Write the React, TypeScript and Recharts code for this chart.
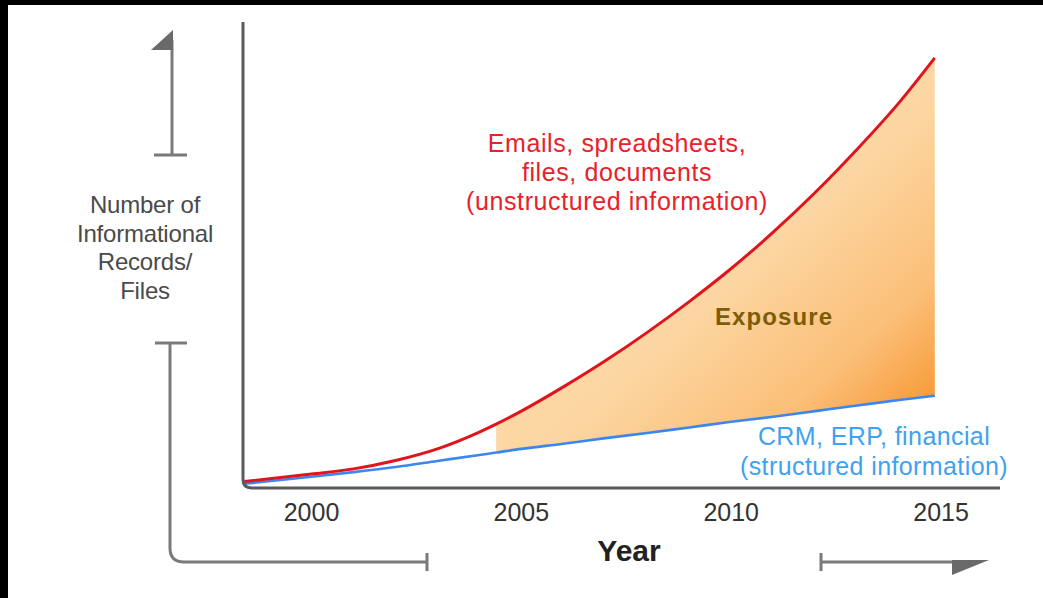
import React from 'react';
import { ComposedChart, Line, Area, XAxis, YAxis } from 'recharts';

const years = [1998.4, 2000, 2001, 2002, 2003, 2004, 2004.4, 2005, 2006, 2007, 2008, 2009, 2010, 2011, 2012, 2013, 2014, 2014.85];
const unstructured = [1.4, 3.0, 4.1, 5.9, 8.4, 12.0, 13.7, 16.5, 21.7, 27.3, 33.4, 40.0, 47.1, 54.9, 63.4, 72.7, 82.7, 92.3];
const structured = [0.9, 2.4, 3.4, 4.5, 5.8, 7.1, 7.6, 8.4, 9.5, 10.7, 11.8, 13.0, 14.2, 15.3, 16.5, 17.7, 18.9, 19.8];
const exposureStart = 2004.4;
const xTicks = [2000, 2005, 2010, 2015];

const redLines = ['Emails, spreadsheets,', 'files, documents', '(unstructured information)'];
const blueLines = ['CRM, ERP, financial', '(structured information)'];
const yLabelLines = ['Number of', 'Informational', 'Records/', 'Files'];

const data = years.map((year, i) => ({
  year,
  unstructured: unstructured[i],
  structured: structured[i],
  exposure: year >= exposureStart ? [structured[i], unstructured[i]] : null,
}));

const FONT = '"Liberation Sans", Arial, sans-serif';

export default function App() {
  return (
    <div style={{ position: 'relative', width: 1043, height: 598, background: '#fff', overflow: 'hidden', fontFamily: FONT }}>
      <style>{'body{margin:0}'}</style>
      <ComposedChart
        width={1043}
        height={598}
        data={data}
        margin={{ top: 22, right: 43, left: 243, bottom: 70 }}
      >
        <defs>
          <linearGradient id="expoGrad" x1="0" y1="0" x2="1" y2="1">
            <stop offset="0%" stopColor="#fde0b8" />
            <stop offset="55%" stopColor="#fcd6a2" />
            <stop offset="78%" stopColor="#fbbf78" />
            <stop offset="100%" stopColor="#f58a1c" />
          </linearGradient>
        </defs>
        <XAxis
          dataKey="year"
          type="number"
          domain={[1998.368, 2016.404]}
          allowDataOverflow
          ticks={xTicks}
          tickLine={false}
          tickSize={0}
          tickMargin={15}
          height={40}
          axisLine={false}
          tick={{ fontSize: 25, fill: '#333', fontFamily: FONT }}
        />
        <YAxis
          type="number"
          domain={[0, 100]}
          width={0}
          tick={false}
          tickLine={false}
          axisLine={false}
        />
        <Area
          type="monotone"
          dataKey="exposure"
          stroke="none"
          fill="url(#expoGrad)"
          fillOpacity={1}
          isAnimationActive={false}
          dot={false}
          activeDot={false}
        />
        <Line
          type="monotone"
          dataKey="structured"
          stroke="#3b86f0"
          strokeWidth={2.6}
          dot={false}
          activeDot={false}
          isAnimationActive={false}
        />
        <Line
          type="monotone"
          dataKey="unstructured"
          stroke="#e0141c"
          strokeWidth={3}
          dot={false}
          activeDot={false}
          isAnimationActive={false}
        />
      </ComposedChart>

      <svg width={1043} height={598} style={{ position: 'absolute', left: 0, top: 0, pointerEvents: 'none' }}>
        {/* main axes with rounded corner */}
        <path d="M243 22 V479 Q243 488 252 488 H1000" fill="none" stroke="#5a5a5a" strokeWidth={3} />
        {/* top arrow bracket */}
        <line x1={172} y1={40} x2={172} y2={155} stroke="#7a7a7a" strokeWidth={3} />
        <polygon points="151,50 173,30 173,50" fill="#6a6a6a" />
        <line x1={154} y1={155} x2={187} y2={155} stroke="#7a7a7a" strokeWidth={3} />
        {/* lower left bracket */}
        <line x1={155} y1={343} x2={187} y2={343} stroke="#7a7a7a" strokeWidth={3} />
        <path d="M170 343 V548 Q170 562 184 562 H427" fill="none" stroke="#7a7a7a" strokeWidth={3} />
        <line x1={427} y1={553} x2={427} y2={571} stroke="#7a7a7a" strokeWidth={3} />
        {/* right arrow */}
        <line x1={821} y1={553} x2={821} y2={571} stroke="#7a7a7a" strokeWidth={3} />
        <line x1={821} y1={562} x2={960} y2={562} stroke="#7a7a7a" strokeWidth={3} />
        <polygon points="952,560 989,560 952,575" fill="#6a6a6a" />

        {yLabelLines.map((t, i) => (
          <text key={t} x={145} y={213 + i * 28.5} textAnchor="middle" fontSize={24} fill="#4a4a4a" fontFamily={FONT} letterSpacing={-0.2}>
            {t}
          </text>
        ))}
        {redLines.map((t, i) => (
          <text key={t} x={617} y={152 + i * 29} textAnchor="middle" fontSize={25} fill="#e8212b" fontFamily={FONT} letterSpacing={0.6}>
            {t}
          </text>
        ))}
        {blueLines.map((t, i) => (
          <text key={t} x={874} y={445 + i * 30} textAnchor="middle" fontSize={25} fill="#3fa2ee" fontFamily={FONT} letterSpacing={0.4}>
            {t}
          </text>
        ))}
        <text x={774} y={325} textAnchor="middle" fontSize={24} fontWeight="bold" fill="#7d5c08" fontFamily={FONT} letterSpacing={1.1}>
          Exposure
        </text>
        <text x={629} y={561} textAnchor="middle" fontSize={30} fontWeight="bold" fill="#222" fontFamily={FONT}>
          Year
        </text>
      </svg>

      <div style={{ position: 'absolute', left: 0, top: 0, width: 1043, height: 5, background: '#000' }} />
      <div style={{ position: 'absolute', left: 0, top: 0, width: 8, height: 598, background: '#000' }} />
    </div>
  );
}
